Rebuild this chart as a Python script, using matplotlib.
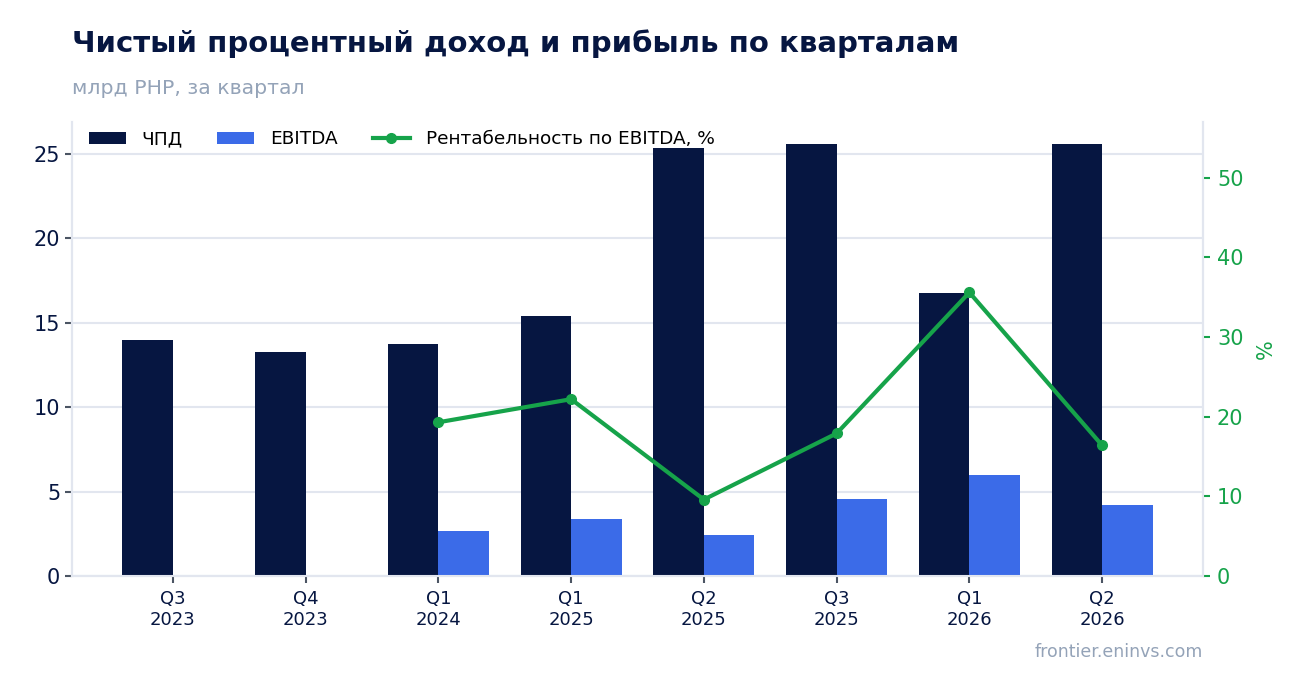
import matplotlib.pyplot as plt
import numpy as np

# Данные по кварталам
quarters = ['Q3\n2023', 'Q4\n2023', 'Q1\n2024', 'Q1\n2025',
            'Q2\n2025', 'Q3\n2025', 'Q1\n2026', 'Q2\n2026']
nii = [14.0, 13.25, 13.72, 15.38, 25.35, 25.6, 16.75, 25.6]
ebitda = [np.nan, np.nan, 2.67, 3.38, 2.43, 4.57, 6.0, 4.22]
margin = [np.nan, np.nan, 19.3, 22.2, 9.6, 17.9, 35.6, 16.4]

NAVY = '#061641'
BLUE = '#3b6be8'
GREEN = '#16a34a'
GRID = '#e2e6ef'

fig = plt.figure(figsize=(13.02, 6.93), dpi=100)
ax = fig.add_axes([72 / 1302, 1 - 576 / 693, (1203 - 72) / 1302, (576 - 122) / 693])
ax2 = ax.twinx()

x = np.arange(len(quarters))
w = 0.38
ax.bar(x - w / 2, nii, w, color=NAVY, label='ЧПД', zorder=3)
ax.bar(x + w / 2, ebitda, w, color=BLUE, label='EBITDA', zorder=3)
ln, = ax2.plot(x, margin, color=GREEN, lw=3, marker='o', ms=7,
               label='Рентабельность по EBITDA, %', zorder=4)

ax.set_xlim(-0.76, 7.76)
ax.set_ylim(0, 26.9)
ax2.set_ylim(0, 57)
ax.set_yticks([0, 5, 10, 15, 20, 25])
ax2.set_yticks([0, 10, 20, 30, 40, 50])
ax.set_xticks(x)
ax.set_xticklabels(quarters, fontsize=13, color=NAVY)
ax.yaxis.grid(True, color=GRID, lw=1.5, zorder=0)
ax.set_axisbelow(True)

for a in (ax, ax2):
    a.spines['top'].set_visible(False)
    for s in ('left', 'right', 'bottom'):
        a.spines[s].set_color(GRID)
        a.spines[s].set_linewidth(1.5)

ax.tick_params(axis='y', labelsize=15, colors=NAVY, length=5, width=1.5)
ax.tick_params(axis='y', labelcolor=NAVY, color='#4b5563')
ax.tick_params(axis='x', length=5, width=1.5, color='#4b5563', pad=5)
ax2.tick_params(axis='y', labelsize=15, colors=GREEN, length=5, width=1.5, pad=5)
ax2.set_ylabel('%', color=GREEN, fontsize=15, labelpad=9)

h1, l1 = ax.get_legend_handles_labels()
ax.legend(h1 + [ln], l1 + [ln.get_label()], loc='upper left', ncol=3,
          frameon=False, fontsize=13.3, bbox_to_anchor=(0.0, 1.018),
          handlelength=2.0, columnspacing=1.9, handletextpad=0.85)

fig.text(72 / 1302, 1 - 44 / 693, 'Чистый процентный доход и прибыль по кварталам',
         fontsize=21, fontweight='bold', color=NAVY, va='center')
fig.text(72 / 1302, 1 - 88 / 693, 'млрд РНР, за квартал',
         fontsize=14.7, color='#94a3b8', va='center')
fig.text(1203 / 1302, 1 - 652 / 693, 'frontier.eninvs.com',
         fontsize=12.5, color='#94a3b8', ha='right', va='center')

fig.savefig('out.png', dpi=100)
